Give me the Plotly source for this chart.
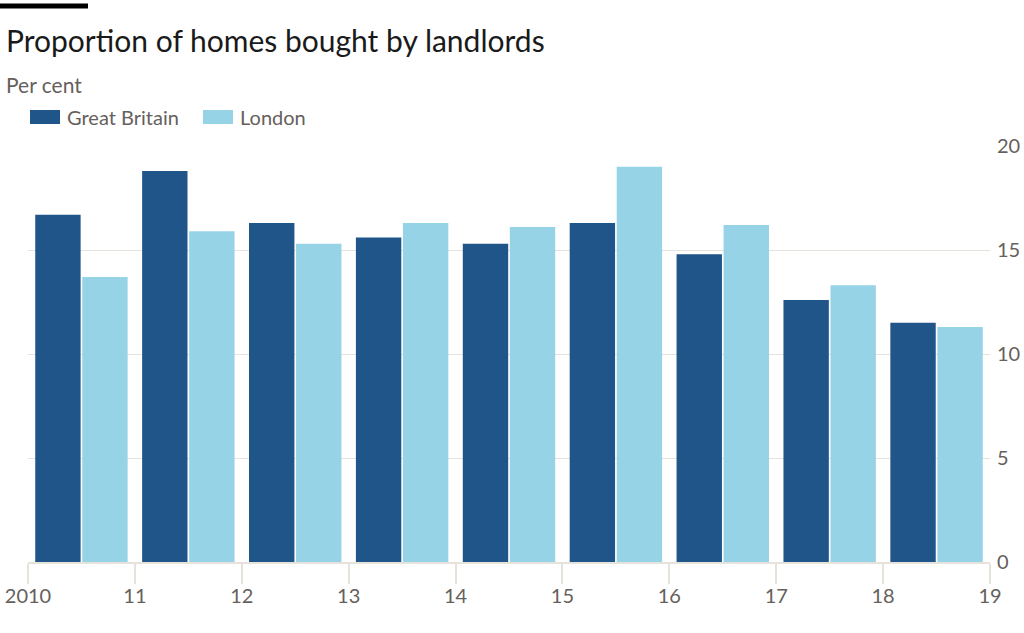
import plotly.graph_objects as go

years = [2010, 2011, 2012, 2013, 2014, 2015, 2016, 2017, 2018]
great_britain = [16.7, 18.8, 16.3, 15.6, 15.3, 16.3, 14.8, 12.6, 11.5]
london = [13.7, 15.9, 15.3, 16.3, 16.1, 19.0, 16.2, 13.3, 11.3]

tick_years = [2010, 2011, 2012, 2013, 2014, 2015, 2016, 2017, 2018, 2019]
tick_labels = ["2010", "11", "12", "13", "14", "15", "16", "17", "18", "19"]
y_ticks = [0, 5, 10, 15, 20]

FONT = "Lato"
GREY = "#66605c"
GRID = "#e6e2dc"
GB_COLOR = "#1f5589"
LDN_COLOR = "#96d3e6"

W, H = 1024, 633
L, R, T, B = 28, 34, 146, 71
PW, PH = W - L - R, H - T - B


def px(x):
    return (x - L) / PW


def py(y):
    return (H - B - y) / PH


# bars sit in the middle of each year, ticks mark the year boundaries
x_mid = [y + 0.5 for y in years]

fig = go.Figure()
fig.add_trace(go.Bar(
    x=x_mid, y=great_britain, name="Great Britain",
    marker=dict(color=GB_COLOR, line=dict(width=0)),
))
fig.add_trace(go.Bar(
    x=x_mid, y=london, name="London",
    marker=dict(color=LDN_COLOR, line=dict(width=0)),
))

fig.update_layout(
    width=W, height=H,
    margin=dict(l=L, r=R, t=T, b=B, autoexpand=False),
    paper_bgcolor="white", plot_bgcolor="white",
    barmode="group", bargap=0.12, bargroupgap=0.035,
    font=dict(family=FONT, color=GREY, size=20),
    showlegend=False,
    xaxis=dict(
        range=[2010, 2019], tickvals=tick_years, ticktext=tick_labels,
        showgrid=False, zeroline=False,
        showline=True, linecolor=GRID, linewidth=2,
        ticks="outside", ticklen=20, tickcolor=GRID, tickwidth=2,
        ticklabelstandoff=-5,
        tickfont=dict(family=FONT, size=20, color=GREY),
    ),
    yaxis=dict(
        range=[0, 20], tickvals=y_ticks, side="right",
        showgrid=True, gridcolor=GRID, gridwidth=1, zeroline=False,
        ticks="", ticklabelstandoff=6,
        tickfont=dict(family=FONT, size=20, color=GREY),
    ),
)

# short black rule above the title
fig.add_shape(type="line", xref="paper", yref="paper",
              x0=px(0), x1=px(88), y0=py(6), y1=py(6),
              line=dict(color="black", width=5))
fig.add_annotation(text="Proportion of homes bought by landlords",
                   xref="paper", yref="paper", x=px(4), y=py(40),
                   xanchor="left", yanchor="middle", showarrow=False,
                   font=dict(family=FONT, size=30, color="#1a1a1a"))
fig.add_annotation(text="Per cent", xref="paper", yref="paper",
                   x=px(4), y=py(84), xanchor="left", yanchor="middle",
                   showarrow=False, font=dict(family=FONT, size=21, color=GREY))

# legend drawn as wide swatches like the original
for name, color, x0 in [("Great Britain", GB_COLOR, 30), ("London", LDN_COLOR, 203)]:
    fig.add_shape(type="rect", xref="paper", yref="paper",
                  x0=px(x0), x1=px(x0 + 30), y0=py(124), y1=py(110),
                  fillcolor=color, line=dict(width=0))
    fig.add_annotation(text=name, xref="paper", yref="paper",
                       x=px(x0 + 35), y=py(117), xanchor="left",
                       yanchor="middle", showarrow=False,
                       font=dict(family=FONT, size=20, color=GREY))

fig.write_html("out.html", config={"displayModeBar": False},
               post_script="document.body.style.margin='0';")
